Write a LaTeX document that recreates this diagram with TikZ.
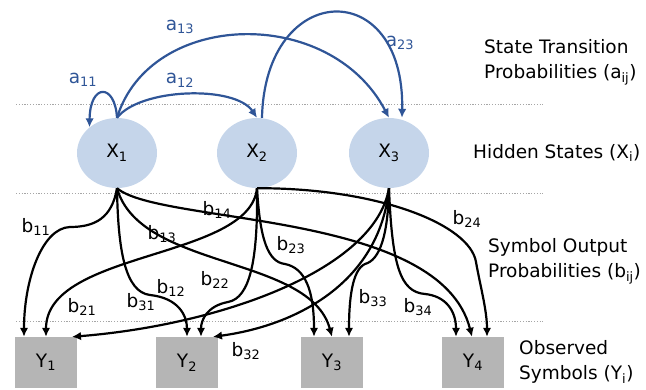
\documentclass[tikz,border=0pt]{standalone}
\usepackage{fontspec}
\setmainfont{DejaVu Sans}
\usepackage{tikz}
\usetikzlibrary{arrows.meta,shapes.geometric}
\definecolor{trans}{HTML}{2F5597}
\definecolor{state}{HTML}{C5D5EA}
\definecolor{symb}{HTML}{B5B5B5}
\definecolor{rule}{HTML}{A6A6A6}

\tikzset{
  hidden/.style={ellipse, fill=state, minimum width=80pt, minimum height=70pt, inner sep=0pt},
  observed/.style={rectangle, fill=symb, minimum width=62pt, minimum height=51pt, inner sep=0pt},
  aarrow/.style={draw=trans, line width=2.2pt, -{Latex[length=9pt,width=8.5pt]}},
  barrow/.style={draw=black, line width=2.2pt, -{Latex[length=9pt,width=8.5pt]}},
  alabel/.style={text=trans, inner sep=0pt},
  blabel/.style={inner sep=0pt},
  layer/.style={inner sep=0pt, anchor=west, align=left},
  sep/.style={rule, line width=1pt, dash pattern=on 1.2pt off 1.6pt},
}

\begin{document}
\begin{tikzpicture}[x=1pt, y=-1pt, every node/.style={font=\fontsize{18.5}{25}\selectfont}]

\useasboundingbox (0,0) rectangle (646,390);

% =========================
% LAYER SEPARATORS
% =========================
\foreach \y in {105,194,322} {
    \draw[sep] (16,\y) -- (543,\y);
}

% =========================
% HIDDEN STATES
% =========================
\node[hidden] (X1) at (117,153) {X\textsubscript{1}};
\node[hidden] (X2) at (257,153) {X\textsubscript{2}};
\node[hidden] (X3) at (389,153) {X\textsubscript{3}};

% =========================
% OBSERVED SYMBOLS
% =========================
\foreach \i/\x in {1/46,2/187,3/332,4/473} {
    \node[observed] (Y\i) at (\x,362.5) {Y\textsubscript{\i}};
}

% =========================
% STATE TRANSITIONS (a_ij)
% =========================
\draw[aarrow] (X1.north) .. controls (115,83) and (90,83) .. (X1.137);
\draw[aarrow] (X1.north) .. controls (140,88) and (235,85) .. (X2.north);
\draw[aarrow] (X1.north) .. controls (150,10) and (330,5) .. (X3.north);
\draw[aarrow] ([xshift=5pt]X2.north) .. controls (265,-20) and (405,-25) .. ([xshift=13pt]X3.north);

\node[alabel] (la11) at (83,80) {a\textsubscript{11}};
\node[alabel] (la12) at (180,80) {a\textsubscript{12}};
\node[alabel] (la13) at (180,27) {a\textsubscript{13}};
\node[alabel] (la23) at (400,43) {a\textsubscript{23}};

% =========================
% SYMBOL OUTPUTS (b_ij)
% =========================
% from X1
\draw[barrow] (X1.south) .. controls (112,218) and (95,227) .. (70,227)
    .. controls (42,228) and (24,280) .. ([xshift=-22pt]Y1.north);
\draw[barrow] (X1.south) .. controls (118,250) and (125,292) .. (150,295)
    .. controls (178,298) and (187,315) .. (Y2.north);
\draw[barrow] (X1.south) .. controls (140,270) and (310,255) .. (Y3.north);
\draw[barrow] (X1.south) .. controls (160,225) and (440,210) .. ([xshift=-1pt]Y4.north);

% from X2
\draw[barrow] (X2.south) .. controls (250,260) and (46,250) .. (Y1.north);
\draw[barrow] (X2.south) .. controls (258,260) and (250,298) .. (228,302)
    .. controls (207,306) and (201,320) .. ([xshift=14pt]Y2.north);
\draw[barrow] (X2.south) .. controls (260,240) and (268,262) .. (285,264)
    .. controls (305,268) and (314,290) .. ([xshift=-18pt]Y3.north);
\draw[barrow] (X2.south) .. controls (380,188) and (470,225) .. (476,262)
    .. controls (480,285) and (487,310) .. ([xshift=14pt]Y4.north);

% from X3
\draw[barrow] (X3.south) .. controls (375,270) and (220,325) .. ([xshift=26pt]Y1.north);
\draw[barrow] (X3.south) .. controls (380,280) and (300,325) .. ([xshift=26pt]Y2.north);
\draw[barrow] (X3.south) .. controls (388,235) and (380,260) .. (365,264)
    .. controls (352,270) and (349,300) .. ([xshift=17pt]Y3.north);
\draw[barrow] (X3.south) .. controls (392,265) and (400,292) .. (425,294)
    .. controls (445,296) and (456,310) .. ([xshift=-17pt]Y4.north);

\node[blabel] (lb11) at (36,227) {b\textsubscript{11}};
\node[blabel] (lb12) at (171,288) {b\textsubscript{12}};
\node[blabel] (lb13) at (162,234) {b\textsubscript{13}};
\node[blabel] (lb14) at (217,210) {b\textsubscript{14}};
\node[blabel] (lb21) at (82,307) {b\textsubscript{21}};
\node[blabel] (lb22) at (215,280) {b\textsubscript{22}};
\node[blabel] (lb23) at (291,245) {b\textsubscript{23}};
\node[blabel] (lb24) at (467,219) {b\textsubscript{24}};
\node[blabel] (lb31) at (141,302) {b\textsubscript{31}};
\node[blabel] (lb32) at (246,351) {b\textsubscript{32}};
\node[blabel] (lb33) at (373,298) {b\textsubscript{33}};
\node[blabel] (lb34) at (418,307) {b\textsubscript{34}};

% =========================
% LAYER CAPTIONS
% =========================
\node[layer] (capA) at (484,62) {State Transition\\Probabilities (a\textsubscript{ij})};
\node[layer] (capX) at (473,153) {Hidden States (X\textsubscript{i})};
\node[layer] (capB) at (488,261) {Symbol Output\\Probabilities (b\textsubscript{ij})};
\node[layer] (capY) at (519,362) {Observed\\Symbols (Y\textsubscript{i})};

\end{tikzpicture}
\end{document}
